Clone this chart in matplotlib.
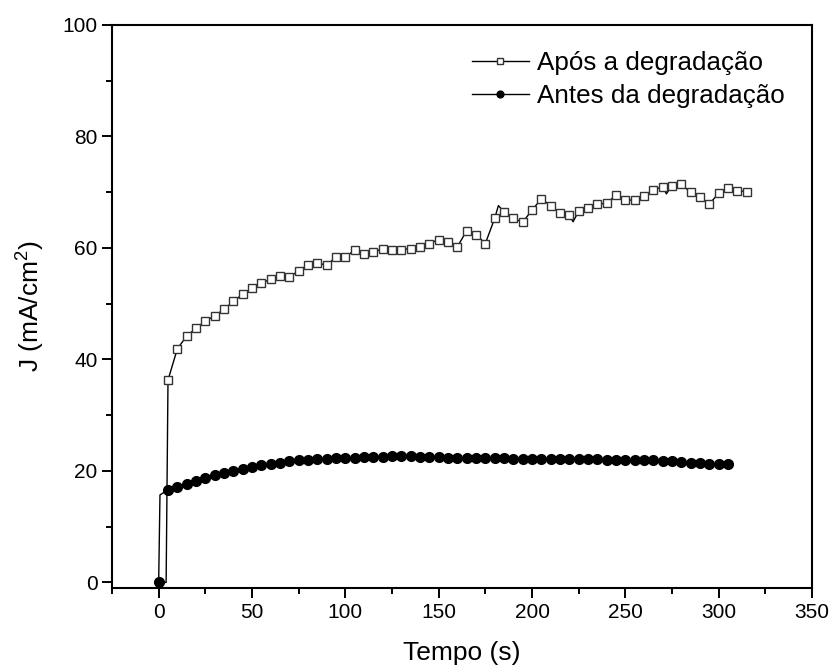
import matplotlib
matplotlib.use('Agg')
import matplotlib.pyplot as plt
from matplotlib.ticker import MultipleLocator

plt.rcParams['font.family'] = ['Liberation Sans', 'DejaVu Sans']
plt.rcParams['mathtext.fontset'] = 'custom'
plt.rcParams['mathtext.rm'] = 'Liberation Sans'

# Após a degradação (quadrados)
t_apos = [0, 4, 5, 10, 15, 20, 25, 30, 35, 40, 45, 50, 55, 60, 65, 70, 75, 80, 85, 90,
          95, 100, 105, 110, 115, 120, 125, 130, 135, 140, 145, 150, 155, 160, 165,
          170, 175, 180, 182, 185, 190, 195, 200, 205, 210, 215, 220, 222, 225, 230,
          235, 240, 245, 250, 255, 260, 265, 270, 272, 275, 280, 285, 290, 295, 300,
          305, 310, 315]
j_apos = [0, 0, 36.3, 41.9, 44.2, 45.6, 46.9, 47.8, 49.0, 50.4, 51.7, 52.8, 53.7, 54.4,
          54.9, 54.8, 55.9, 57.0, 57.3, 56.9, 58.4, 58.4, 59.6, 58.9, 59.3, 59.8, 59.6,
          59.7, 59.9, 60.2, 60.8, 61.5, 61.1, 60.2, 63.1, 62.4, 60.8, 65.3, 67.6, 66.5,
          65.3, 64.6, 66.8, 68.8, 67.6, 66.2, 65.9, 64.7, 66.6, 67.1, 67.9, 68.0, 69.5,
          68.6, 68.6, 69.4, 70.4, 71.0, 69.7, 71.2, 71.4, 70.0, 69.1, 67.9, 69.8, 70.7,
          70.3, 70.1]
# pontos só de linha (sem marcador)
sem_marca_apos = [0, 1, 38, 47, 58]

# Antes da degradação (círculos)
t_antes = [0, 0.7] + list(range(5, 306, 5))
j_antes = [0, 15.7,
           16.6, 17.2, 17.7, 18.2, 18.7, 19.2, 19.6, 20.0, 20.4, 20.7,
           21.0, 21.3, 21.5, 21.7, 21.9, 22.0, 22.1, 22.2, 22.3, 22.4,
           22.4, 22.5, 22.5, 22.5, 22.6, 22.6, 22.6, 22.5, 22.5, 22.5,
           22.4, 22.4, 22.3, 22.3, 22.3, 22.3, 22.3, 22.2, 22.2, 22.2,
           22.2, 22.2, 22.2, 22.1, 22.1, 22.1, 22.1, 22.0, 22.0, 22.0,
           22.0, 21.9, 21.9, 21.8, 21.7, 21.6, 21.5, 21.4, 21.3, 21.2, 21.2]
sem_marca_antes = [1]

fig = plt.figure(figsize=(8.31, 6.72), dpi=100)
ax = fig.add_axes([112 / 831, 1 - 588 / 672, 700 / 831, 563 / 672])

marca_apos = [i for i in range(len(t_apos)) if i not in sem_marca_apos]
marca_antes = [i for i in range(len(t_antes)) if i not in sem_marca_antes]

ax.plot(t_apos, j_apos, color='black', lw=1.0, marker='s', ms=6.3, mfc='white',
        mec='#333333', mew=1.0, markevery=marca_apos, label='Após a degradação')
ax.plot(t_antes, j_antes, color='black', lw=1.0, marker='o', ms=7, mfc='black',
        mec='black', markevery=marca_antes, label='Antes da degradação')

ax.set_xlim(-25, 350)
ax.set_ylim(-1, 100)
ax.xaxis.set_major_locator(MultipleLocator(50))
ax.xaxis.set_minor_locator(MultipleLocator(25))
ax.yaxis.set_major_locator(MultipleLocator(20))
ax.yaxis.set_minor_locator(MultipleLocator(10))
ax.tick_params(which='major', direction='out', length=7, width=1.4, labelsize=15)
ax.tick_params(which='minor', direction='out', length=4, width=1.4)
for s in ax.spines.values():
    s.set_linewidth(1.5)

ax.set_xlabel('Tempo (s)', fontsize=19, labelpad=14)
ax.set_ylabel(r'J (mA/cm$^\mathregular{2}$)', fontsize=19, labelpad=12)

ax.legend(loc='upper left', bbox_to_anchor=(0.514, 0.953), frameon=False,
          fontsize=18.7, handlelength=2.2, handletextpad=0.3, labelspacing=0.32,
          markerscale=0.7, borderpad=0, borderaxespad=0)

fig.savefig('out.png', dpi=100)
